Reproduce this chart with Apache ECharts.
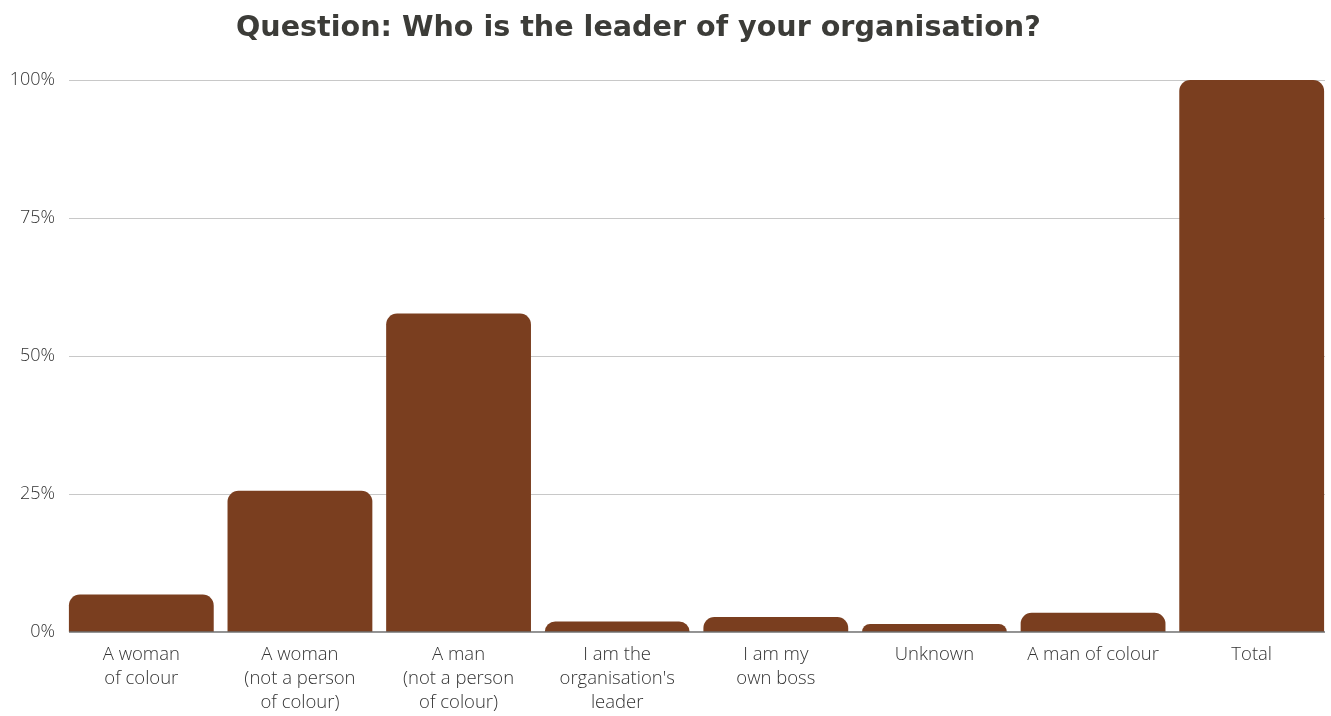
<!DOCTYPE html>
<html>
<head>
<meta charset="utf-8">
<script src="https://cdn.jsdelivr.net/npm/echarts@6/dist/echarts.min.js"></script>
<style>
  html, body { margin: 0; padding: 0; background: #ffffff; }
  #chart { width: 1331px; height: 716px; }
</style>
</head>
<body>
<div id="chart"></div>
<script>
// Survey answers: "Who is the leader of your organisation?"
const categories = [
  'A woman\nof colour',
  'A woman\n(not a person\nof colour)',
  'A man\n(not a person\nof colour)',
  "I am the\norganisation's\nleader",
  'I am my\nown boss',
  'Unknown',
  'A man of colour',
  'Total'
];
const shares = [6.8, 25.6, 57.7, 1.9, 2.7, 1.45, 3.5, 100];
const yTicks = [0, 25, 50, 75, 100];

const labelFont = '"Open Sans", "Noto Sans", sans-serif';
const barColor = '#7a3e1f';

const chart = echarts.init(document.getElementById('chart'), null, { renderer: 'canvas' });

chart.setOption({
  backgroundColor: '#ffffff',
  animation: false,
  title: {
    text: 'Question: Who is the leader of your organisation?',
    left: 231,
    top: 9,
    textStyle: {
      fontFamily: '"DejaVu Sans", sans-serif',
      fontWeight: 'bold',
      fontSize: 28.6,
      color: '#3c3c38'
    }
  },
  grid: [
    // frame for gridlines, axis line and percentage labels
    { left: 69, right: 6, top: 80, bottom: 84 },
    // bars and category labels
    { left: 62, right: -1, top: 80, bottom: 84 }
  ],
  xAxis: [
    {
      gridIndex: 0,
      type: 'value',
      min: 0,
      max: 1,
      show: true,
      axisLine: { show: false },
      axisTick: { show: false },
      axisLabel: { show: false },
      splitLine: { show: false }
    },
    {
      gridIndex: 1,
      type: 'category',
      data: categories,
      axisLine: { show: false },
      axisTick: { show: false },
      axisLabel: {
        margin: 11,
        interval: 0,
        fontFamily: labelFont,
        fontWeight: 300,
        fontSize: 18.5,
        lineHeight: 24,
        color: '#333333'
      }
    }
  ],
  yAxis: [
    {
      gridIndex: 0,
      type: 'value',
      min: 0,
      max: 100,
      interval: 25,
      axisLine: { show: false },
      axisTick: { show: false },
      axisLabel: {
        margin: 14,
        fontFamily: labelFont,
        fontWeight: 300,
        fontSize: 18,
        color: '#333333',
        formatter: v => (yTicks.includes(v) ? v + '%' : '')
      },
      splitLine: { show: true, lineStyle: { color: '#c8c8c8', width: 1 } }
    },
    {
      gridIndex: 1,
      type: 'value',
      min: 0,
      max: 100,
      show: false
    }
  ],
  series: [
    {
      type: 'bar',
      xAxisIndex: 1,
      yAxisIndex: 1,
      data: shares,
      barCategoryGap: '8.7%',
      itemStyle: { color: barColor, borderRadius: [11, 11, 0, 0] },
      z: 2
    },
    {
      // baseline under the bars
      type: 'line',
      xAxisIndex: 0,
      yAxisIndex: 0,
      data: [[0, 0], [1, 0]],
      symbol: 'none',
      lineStyle: { color: '#6e6e6e', width: 1.5 },
      z: 3,
      silent: true
    }
  ]
});
</script>
</body>
</html>
